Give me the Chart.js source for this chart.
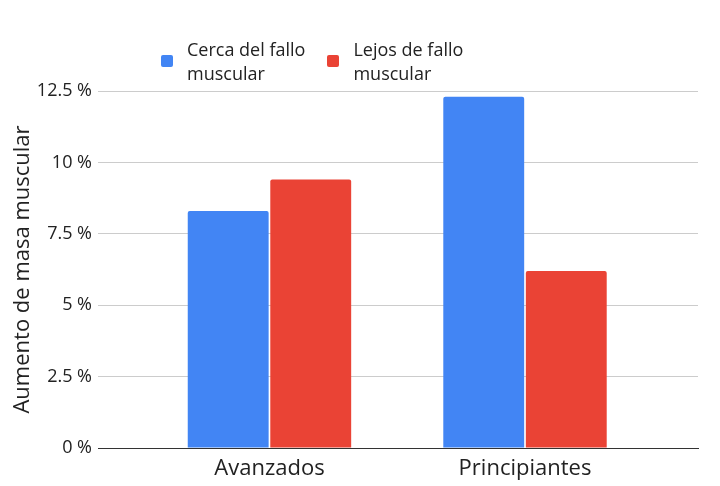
<!DOCTYPE html>
<html>
<head>
<meta charset="utf-8">
<script src="https://cdn.jsdelivr.net/npm/chart.js@4/dist/chart.umd.min.js"></script>
<style>
  body { margin: 0; background: #fff; font-family: "Open Sans", sans-serif; }
  #wrap { position: relative; width: 720px; height: 486px; }
  #legend { position: absolute; top: 37px; left: 161px; display: flex; color: #222; font-size: 18px; line-height: 24px; }
  .item { display: flex; align-items: center; margin-right: 22px; }
  .box { width: 12px; height: 12px; border-radius: 2px; margin-right: 14px; flex: none; }
</style>
</head>
<body>
<div id="wrap">
  <canvas id="chart" width="720" height="486"></canvas>
  <div id="legend"></div>
</div>
<script>
const categories = ['Avanzados', 'Principiantes'];
const cercaFallo = [8.3, 12.3];
const lejosFallo = [9.4, 6.2];
const yTicks = [0, 2.5, 5, 7.5, 10, 12.5];
const seriesNames = [['Cerca del fallo', 'muscular'], ['Lejos de fallo', 'muscular']];
const colors = ['#4285F4', '#EA4335'];

function toPoints(values) {
  return values.map((v, i) => ({ x: i, y: v }));
}

// html legend, labels wrap onto two lines like the original
const legend = document.getElementById('legend');
seriesNames.forEach((name, i) => {
  const item = document.createElement('div');
  item.className = 'item';
  item.innerHTML = '<span class="box" style="background:' + colors[i] + '"></span><span>' + name.join('<br>') + '</span>';
  legend.appendChild(item);
});

new Chart(document.getElementById('chart'), {
  type: 'bar',
  data: {
    datasets: [
      {
        label: seriesNames[0].join(' '),
        data: toPoints(cercaFallo),
        backgroundColor: colors[0],
        borderRadius: { topLeft: 2, topRight: 2 },
        borderSkipped: 'start'
      },
      {
        label: seriesNames[1].join(' '),
        data: toPoints(lejosFallo),
        backgroundColor: colors[1],
        borderRadius: { topLeft: 2, topRight: 2 },
        borderSkipped: 'start'
      }
    ]
  },
  options: {
    responsive: false,
    animation: false,
    categoryPercentage: 0.646,
    barPercentage: 0.98,
    layout: { padding: { top: 91, right: 22, left: 0, bottom: 0 } },
    plugins: {
      legend: { display: false },
      tooltip: { enabled: false }
    },
    scales: {
      x: {
        type: 'linear',
        min: -0.671,
        max: 1.677,
        offset: false,
        bounds: 'data',
        grid: { display: false },
        border: { color: '#333', width: 1 },
        afterBuildTicks: scale => { scale.ticks = categories.map((c, i) => ({ value: i })); },
        afterFit: scale => { scale.height = 38; },
        ticks: {
          color: '#222',
          padding: 0,
          font: { family: 'Open Sans', size: 22 },
          callback: v => categories[v]
        }
      },
      y: {
        min: 0,
        max: 12.5,
        afterBuildTicks: scale => { scale.ticks = yTicks.map(v => ({ value: v })); },
        afterFit: scale => { scale.width = 98; },
        grid: {
          color: ctx => ctx.tick && ctx.tick.value === 0 ? '#333' : '#ccc',
          drawTicks: false
        },
        border: { display: false },
        ticks: {
          color: '#222',
          padding: 6,
          font: { family: 'Open Sans', size: 18 },
          callback: v => v + ' %'
        },
        title: {
          display: true,
          text: 'Aumento de masa muscular',
          color: '#222',
          font: { family: 'Open Sans', size: 22 },
          padding: { top: 10, bottom: 0 }
        }
      }
    }
  }
});
</script>
</body>
</html>
